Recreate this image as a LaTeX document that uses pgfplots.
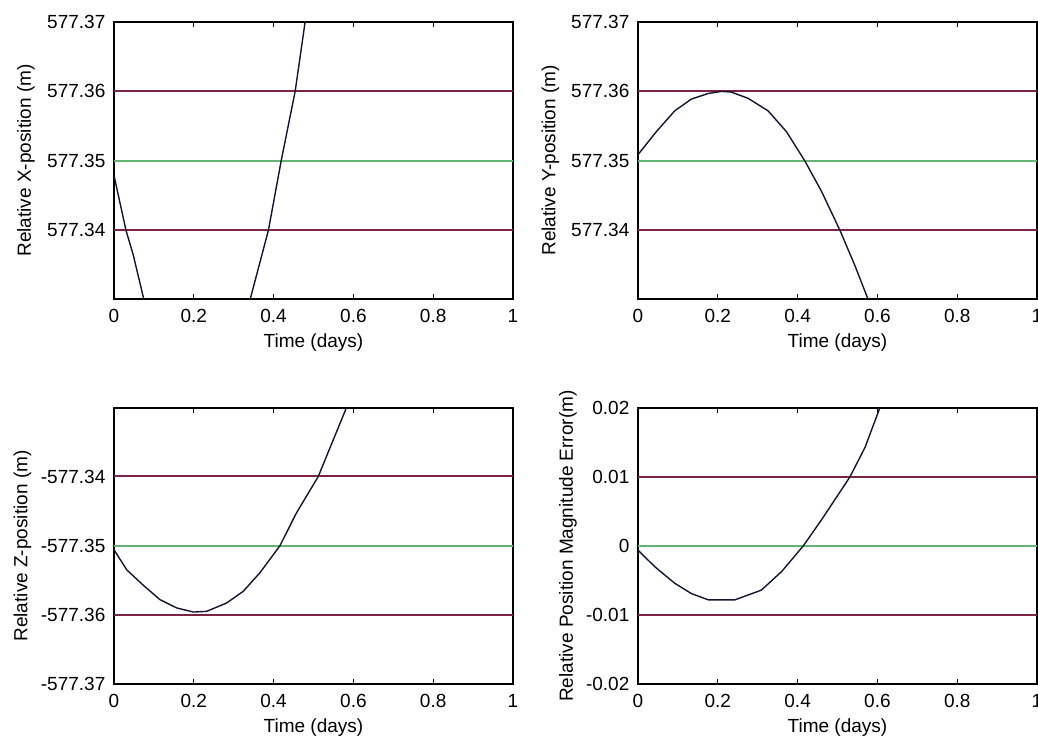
\documentclass[border=0pt]{standalone}
\usepackage{pgfplots}
\pgfplotsset{compat=1.18}
\usepackage{fontspec}
\setmainfont{Liberation Sans}
\definecolor{limred}{RGB}{125,35,70}
\definecolor{limgreen}{RGB}{100,180,115}
\definecolor{curvec}{RGB}{20,20,50}
\pgfplotsset{
  myax/.style={
    scale only axis, width=199.5pt, anchor=south west,
    xmin=0, xmax=1,
    xtick={0,0.2,0.4,0.6,0.8,1},
    xticklabels={0,0.2,0.4,0.6,0.8,1},
    tick align=inside, tick pos=both, major tick length=2.5pt,
    tick style={black, line width=0.5pt},
    axis line style={line width=0.6pt},
    scaled y ticks=false, scaled x ticks=false,
    tick label style={font=\fontsize{9.5}{11}\selectfont},
    label style={font=\fontsize{9.5}{11}\selectfont},
    xticklabel style={yshift=-1.8pt},
    yticklabel style={xshift=-0.8pt},
    xlabel={Time (days)},
    xlabel style={at={([yshift=-22pt]axis description cs:0.5,0)}, anchor=center},
    clip=true,
  },
  limr/.style={limred, line width=1pt},
  limg/.style={limgreen, line width=1pt},
  crv/.style={curvec, line width=0.7pt},
}
\begin{document}
\begin{tikzpicture}
\path[use as bounding box] (0,0) rectangle (519pt,371pt);

% Top-left: X position
\begin{axis}[myax, at={(57pt,221.5pt)}, height=138.5pt,
  ymin=577.3301, ymax=577.37,
  ytick={577.34,577.35,577.36,577.37},
  yticklabels={577.34,577.35,577.36,577.37},
  ylabel={Relative X-position (m)},
  ylabel style={at={([xshift=-44pt]axis description cs:0,0.5)}, anchor=center}]
\addplot[limr] coordinates {(0,577.36) (1,577.36)};
\addplot[limr] coordinates {(0,577.34) (1,577.34)};
\addplot[limg] coordinates {(0,577.35) (1,577.35)};
\addplot[crv] coordinates {
(0,577.3479) (0.030,577.3400) (0.048,577.3365) (0.075,577.3300)
(0.125,577.318) (0.208,577.305) (0.290,577.316) (0.341,577.3300)
(0.387,577.3400) (0.419,577.3500) (0.454,577.3600) (0.479,577.3700)
(0.52,577.385)};
\end{axis}

% Top-right: Y position
\begin{axis}[myax, at={(319pt,221.5pt)}, height=138.5pt,
  ymin=577.3301, ymax=577.37,
  ytick={577.34,577.35,577.36,577.37},
  yticklabels={577.34,577.35,577.36,577.37},
  ylabel={Relative Y-position (m)},
  ylabel style={at={([xshift=-43.75pt]axis description cs:0,0.5)}, anchor=center}]
\addplot[limr] coordinates {(0,577.36) (1,577.36)};
\addplot[limr] coordinates {(0,577.34) (1,577.34)};
\addplot[limg] coordinates {(0,577.35) (1,577.35)};
\addplot[crv] coordinates {
(0,577.3509) (0.046,577.3542) (0.092,577.3572) (0.134,577.3589)
(0.176,577.3597) (0.209,577.3600) (0.234,577.3599) (0.276,577.3590)
(0.326,577.3572) (0.372,577.3542) (0.418,577.3500) (0.460,577.3456)
(0.506,577.3400) (0.543,577.3350) (0.577,577.3300) (0.62,577.323)};
\end{axis}

% Bottom-left: Z position
\begin{axis}[myax, at={(57pt,29pt)}, height=138pt,
  ymin=-577.37, ymax=-577.3301,
  ytick={-577.37,-577.36,-577.35,-577.34},
  yticklabels={-577.37,-577.36,-577.35,-577.34},
  ylabel={Relative Z-position (m)},
  ylabel style={at={([xshift=-45.75pt]axis description cs:0,0.5)}, anchor=center}]
\addplot[limr] coordinates {(0,-577.36) (1,-577.36)};
\addplot[limr] coordinates {(0,-577.34) (1,-577.34)};
\addplot[limg] coordinates {(0,-577.35) (1,-577.35)};
\addplot[crv] coordinates {
(0,-577.3506) (0.032,-577.3535) (0.073,-577.3557) (0.115,-577.3578)
(0.157,-577.3590) (0.199,-577.3596) (0.232,-577.3595) (0.282,-577.3583)
(0.324,-577.3566) (0.366,-577.3539) (0.416,-577.3500) (0.457,-577.3453)
(0.512,-577.3400) (0.546,-577.3352) (0.583,-577.3300) (0.62,-577.324)};
\end{axis}

% Bottom-right: magnitude error
\begin{axis}[myax, at={(319pt,29pt)}, height=138pt,
  ymin=-0.02, ymax=0.02,
  ytick={-0.02,-0.01,0,0.01,0.02},
  yticklabels={-0.02,-0.01,0,0.01,0.02},
  ylabel={Relative Position Magnitude Error(m)},
  ylabel style={at={([xshift=-35pt]axis description cs:0,0.5)}, anchor=center}]
\addplot[limr] coordinates {(0,0.01) (1,0.01)};
\addplot[limr] coordinates {(0,-0.01) (1,-0.01)};
\addplot[limg] coordinates {(0,0) (1,0)};
\addplot[crv] coordinates {
(0,-0.0006) (0.042,-0.0030) (0.092,-0.0054) (0.134,-0.0069)
(0.176,-0.0078) (0.243,-0.0078) (0.309,-0.0064) (0.360,-0.0037)
(0.414,0.0000) (0.460,0.0038) (0.531,0.0100) (0.569,0.0143)
(0.606,0.0200) (0.64,0.026)};
\end{axis}
\end{tikzpicture}
\end{document}
